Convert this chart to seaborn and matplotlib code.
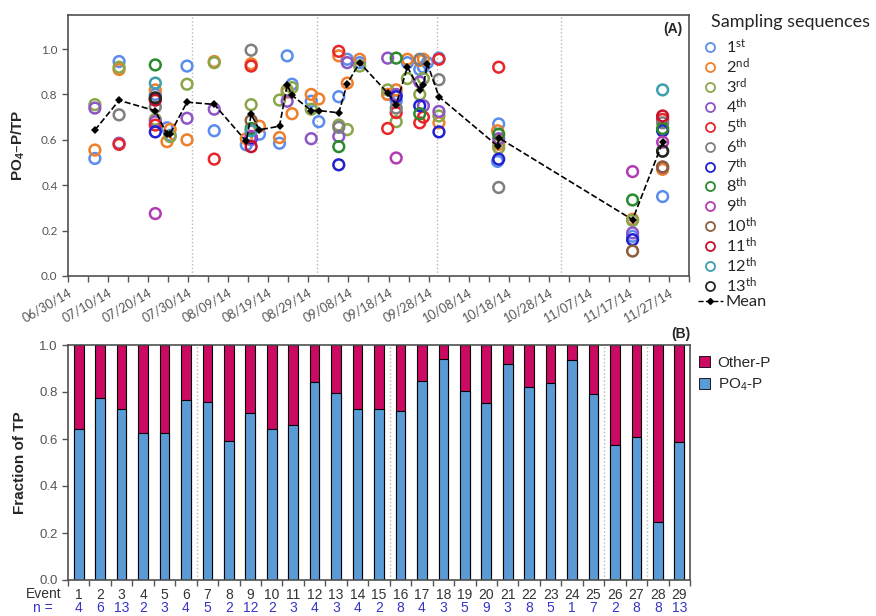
import numpy as np
import pandas as pd
import matplotlib
matplotlib.use('Agg')
import matplotlib.pyplot as plt
from matplotlib.lines import Line2D
from matplotlib.patches import Patch
import seaborn as sns

nan = np.nan

# sampling date of each event (29 events)
event_dates = ['2014-07-06 17:00', '2014-07-12 18:00', '2014-07-21 19:00', '2014-07-24 17:00',
               '2014-07-25 12:00', '2014-07-29 17:00', '2014-08-05 12:00', '2014-08-13 12:00',
               '2014-08-14 17:00', '2014-08-16 19:00', '2014-08-21 19:00', '2014-08-23 17:00',
               '2014-08-24 22:00', '2014-08-29 17:00', '2014-08-31 14:00', '2014-09-05 14:00',
               '2014-09-07 17:00', '2014-09-10 19:00', '2014-09-17 19:00', '2014-09-19 22:00',
               '2014-09-22 17:00', '2014-09-25 19:00', '2014-09-26 17:00', '2014-09-27 17:00',
               '2014-09-30 14:00', '2014-10-15 05:00', '2014-10-15 12:00', '2014-11-17 22:00',
               '2014-11-25 10:00']
event_n = [4, 6, 13, 2, 3, 4, 5, 2, 12, 2, 3, 4, 3, 4, 2, 8, 4, 3, 5, 9, 3, 8, 5, 1, 7, 2, 8, 8, 13]

# PO4-P / TP of each sampling sequence, per event
s01 = [.518, .945, .80, .653, .62, .925, .64, .578, .60, .625, .585, .97, .845, .77, .68, .79, .955, .94,
       .80, .77, .94, .91, .92, .94, .96, .505, .67, .175, .35]
s02 = [.555, .91, .82, .592, .646, .60, .945, .605, .935, .66, .61, .81, .715, .80, .78, .97, .85, .955,
       .80, .82, .955, .95, .955, nan, .675, .64, .58, .25, .47]
s03 = [.755, .92, .69, nan, .614, .845, .94, nan, .755, nan, .775, .82, .83, .735, nan, .665, .645, .925,
       .82, .68, .87, .80, .87, nan, .705, nan, .565, .245, .55]
s04 = [.74, .585, .68, nan, nan, .695, .735, nan, .605, nan, nan, .77, nan, .605, nan, .615, .94, nan,
       .96, .80, nan, .855, .75, nan, .725, nan, .605, .19, .48]
s05 = [nan, .58, .665, nan, nan, nan, .515, nan, .925, nan, nan, nan, nan, nan, nan, .99, nan, nan,
       .65, .72, nan, .675, .70, nan, .955, nan, .92, nan, .69]
s06 = [nan, .71, .745, nan, nan, nan, nan, nan, .995, nan, nan, nan, nan, nan, nan, .655, nan, nan,
       nan, .74, nan, .955, nan, nan, .865, nan, .39, nan, .675]
s07 = [nan, nan, .635, nan, nan, nan, nan, nan, .61, nan, nan, nan, nan, nan, nan, .49, nan, nan,
       nan, .79, nan, .75, nan, nan, .635, nan, .515, .16, .64]
s08 = [nan, nan, .93, nan, nan, nan, nan, nan, .65, nan, nan, nan, nan, nan, nan, .57, nan, nan,
       nan, .96, nan, .715, nan, nan, nan, nan, .625, .335, .65]
s09 = [nan, nan, .275, nan, nan, nan, nan, nan, .615, nan, nan, nan, nan, nan, nan, nan, nan, nan,
       nan, .52, nan, nan, nan, nan, nan, nan, nan, .46, .59]
s10 = [nan, nan, .78, nan, nan, nan, nan, nan, .685, nan, nan, nan, nan, nan, nan, nan, nan, nan,
       nan, nan, nan, nan, nan, nan, nan, nan, nan, .11, .48]
s11 = [nan, nan, .775, nan, nan, nan, nan, nan, .57, nan, nan, nan, nan, nan, nan, nan, nan, nan,
       nan, nan, nan, nan, nan, nan, nan, nan, nan, nan, .705]
s12 = [nan, nan, .85, nan, nan, nan, nan, nan, .64, nan, nan, nan, nan, nan, nan, nan, nan, nan,
       nan, nan, nan, nan, nan, nan, nan, nan, nan, nan, .82]
s13 = [nan, nan, .785, nan, nan, nan, nan, nan, nan, nan, nan, nan, nan, nan, nan, nan, nan, nan,
       nan, nan, nan, nan, nan, nan, nan, nan, nan, nan, .55]

# event-mean fraction of TP as PO4-P (panel B, also the Mean line in panel A)
po4_fraction = [.643, .774, .728, .624, .627, .766, .756, .593, .712, .644, .66, .843, .796, .729, .729,
                .719, .848, .94, .806, .755, .921, .82, .84, .936, .79, .573, .609, .248, .589]

seq_labels = ['1$^{st}$', '2$^{nd}$', '3$^{rd}$'] + [f'{i}$^{{th}}$' for i in range(4, 14)]
seq_colors = ['#5B8DEF', '#F07F2A', '#8AA64A', '#8D55C6', '#E8262A', '#7F7F7F', '#2121D0',
              '#2B8A2B', '#B33CB3', '#8C5E3C', '#C8102E', '#3C9FAE', '#262626']
month_lines = ['2014-07-31', '2014-08-31 02:00', '2014-09-30', '2014-10-31']
month_breaks_after = [6, 15, 25, 27]
date_ticks = pd.date_range('2014-06-30', periods=16, freq='10D')
minor_ticks = pd.date_range('2014-07-05', periods=16, freq='10D')

dates = pd.to_datetime(event_dates)
wide = pd.DataFrame({lab: vals for lab, vals in zip(seq_labels, [s01, s02, s03, s04, s05, s06, s07,
                                                                   s08, s09, s10, s11, s12, s13])})
wide['date'] = dates
long_df = wide.melt(id_vars='date', var_name='sequence', value_name='ratio').dropna()

sns.set_theme(style='ticks')
plt.rcParams['font.family'] = ['Lato', 'DejaVu Sans']
plt.rcParams['mathtext.default'] = 'regular'

fig = plt.figure(figsize=(8.76, 6.16), dpi=100)
ax1 = fig.add_axes([68 / 876, 1 - 276 / 616, 621 / 876, 261 / 616])
ax2 = fig.add_axes([68 / 876, 1 - 580 / 616, 622 / 876, 235 / 616])

# ---- panel A
for d in month_lines:
    ax1.axvline(pd.Timestamp(d), color='#b8b8b8', lw=1, ls=':', zorder=0)

sns.scatterplot(data=long_df, x='date', y='ratio', hue='sequence', hue_order=seq_labels,
                palette=seq_colors, s=60, linewidth=1.8, legend=False, ax=ax1, zorder=3)
pts = ax1.collections[-1]
pts.set_edgecolors(pts.get_facecolors())
pts.set_facecolors('none')

sns.lineplot(x=dates, y=po4_fraction, estimator=None, color='black', ls='--', lw=1.2,
             marker='D', markersize=3.8, markeredgewidth=0, ax=ax1, zorder=5)

ax1.set_xticks(date_ticks)
ax1.set_xticks(minor_ticks, minor=True)
ax1.set_xticklabels([d.strftime('%m/%d/%y') for d in date_ticks], rotation=30, ha='right',
                    rotation_mode='anchor')
ax1.set_xlim(pd.Timestamp('2014-06-30'), pd.Timestamp('2014-12-02'))
ax1.set_ylim(0, 1.15)
ax1.set_yticks(np.arange(0, 1.01, 0.2))
ax1.set_yticklabels([f'{v:.1f}' for v in np.arange(0, 1.01, 0.2)])
ax1.tick_params(axis='both', labelsize=8.5, labelcolor='#555555', color='#555555', length=4, width=1)
ax1.tick_params(axis='x', labelsize=9)
ax1.tick_params(axis='x', which='minor', length=4, width=1, color='#555555')
ax1.set_xlabel('')
ax1.set_ylabel('PO$_4$–P/TP', fontsize=11, fontweight='bold', family=['Liberation Sans'])
ax1.yaxis.set_label_coords(-0.066, 0.5)
for sp in ax1.spines.values():
    sp.set_color('#505050')
    sp.set_linewidth(1.2)
ax1.text(0.99, 0.975, '(A)', transform=ax1.transAxes, ha='right', va='top', fontsize=10,
         fontweight='bold', family=['Liberation Sans'])

handles = [Line2D([], [], ls='none', marker='o', markersize=6.5, markerfacecolor='none',
                  markeredgecolor=c, markeredgewidth=1.3) for c in seq_colors]
handles.append(Line2D([], [], color='black', ls='--', lw=1, marker='D', markersize=3))
ax1.legend(handles, seq_labels + ['Mean'], loc='upper left', bbox_to_anchor=(1.004, 0.936),
           frameon=False, fontsize=11.8, labelspacing=0.0, handlelength=1.5, handletextpad=0.2,
           borderaxespad=0)
ax1.text(1.0354, 0.973, 'Sampling sequences', transform=ax1.transAxes, ha='left', va='center',
         fontsize=13)

# ---- panel B
event_names = [str(i) for i in range(1, 30)]
total_fraction = [1.0] * len(po4_fraction)
sns.barplot(x=event_names, y=total_fraction, color='#CC0A63', width=0.45, edgecolor='black',
            linewidth=0.8, saturation=1, ax=ax2)
sns.barplot(x=event_names, y=po4_fraction, color='#5B9BD5', width=0.45, edgecolor='black',
            linewidth=0.8, saturation=1, ax=ax2)
for k in month_breaks_after:
    ax2.axvline(k - 0.5, color='#b8b8b8', lw=1, ls=':', zorder=0)

ax2.set_xticks(np.arange(-0.5, 29, 1), minor=True)
ax2.set_xlim(-0.5, 28.5)
ax2.set_ylim(0, 1.0)
ax2.set_yticks(np.arange(0, 1.01, 0.2))
ax2.set_yticklabels([f'{v:.1f}' for v in np.arange(0, 1.01, 0.2)], family=['Liberation Sans'])
ax2.tick_params(axis='x', which='major', length=0, labelsize=10, labelcolor='#333333', pad=6)
ax2.tick_params(axis='x', which='minor', length=4, width=1, color='#555555')
ax2.tick_params(axis='y', labelsize=9.5, labelcolor='#555555', color='#555555', length=4, width=1)
for lab in ax2.get_xticklabels():
    lab.set_family(['Liberation Sans'])
ax2.set_xlabel('')
ax2.set_ylabel('Fraction of TP', fontsize=11, fontweight='bold', family=['Liberation Sans'])
ax2.yaxis.set_label_coords(-0.066, 0.5)
for sp in ax2.spines.values():
    sp.set_color('#505050')
    sp.set_linewidth(1.2)

xt = ax2.get_xaxis_transform()
ax2.text(-0.01, -0.058, 'Event', transform=ax2.transAxes, ha='right', va='center', fontsize=10,
         color='#333333', family=['Liberation Sans'])
ax2.text(-0.025, -0.118, 'n =', transform=ax2.transAxes, ha='right', va='center', fontsize=10,
         color='#3535C8', family=['Liberation Sans'])
for i, n in enumerate(event_n):
    ax2.text(i, -0.118, str(n), transform=xt, ha='center', va='center', fontsize=10,
             color='#3535C8', family=['Liberation Sans'])
ax2.text(1.0, 1.015, '(B)', transform=ax2.transAxes, ha='right', va='bottom', fontsize=10,
         fontweight='bold', family=['Liberation Sans'])

bar_handles = [Patch(facecolor='#CC0A63', edgecolor='black', lw=0.6),
               Patch(facecolor='#5B9BD5', edgecolor='black', lw=0.6)]
ax2.legend(bar_handles, ['Other-P', 'PO$_4$-P'], loc='upper left', bbox_to_anchor=(1.005, 0.98),
           frameon=False, prop={'family': 'Liberation Sans', 'size': 11}, handlelength=0.7,
           handleheight=0.7, handletextpad=0.5, labelspacing=0.45, borderaxespad=0)

fig.savefig('out.png', dpi=100)
